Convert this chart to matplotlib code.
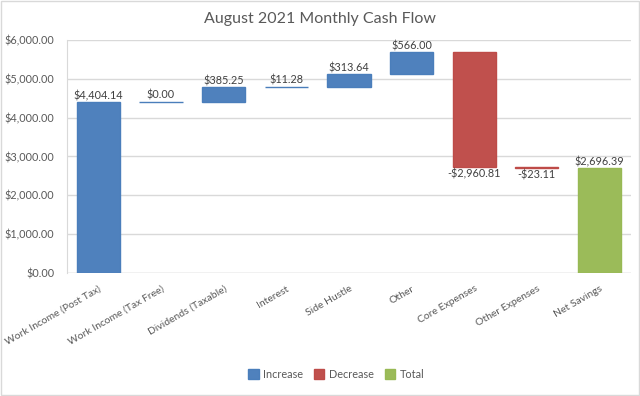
import numpy as np
import matplotlib
matplotlib.use("Agg")
import matplotlib.pyplot as plt
from matplotlib.patches import Patch, Rectangle

categories = [
    "Work Income (Post Tax)",
    "Work Income (Tax Free)",
    "Dividends (Taxable)",
    "Interest",
    "Side Hustle",
    "Other",
    "Core Expenses",
    "Other Expenses",
    "Net Savings",
]
amounts = [4404.14, 0.00, 385.25, 11.28, 313.64, 566.00, -2960.81, -23.11, 2696.39]
kinds = ["inc", "inc", "inc", "inc", "inc", "inc", "dec", "dec", "total"]

colors = {"inc": "#4f81bd", "dec": "#c0504d", "total": "#9bbb59"}
edges = {"inc": "#4a7ebb", "dec": "#be4b48", "total": "#98b954"}
text_col = "#595959"

plt.rcParams["font.family"] = ["Lato", "DejaVu Sans"]


def money(v):
    s = "${:,.2f}".format(abs(v))
    return "-" + s if v < 0 else s


def main():
    fig = plt.figure(figsize=(6.4, 3.96), dpi=100)
    ax = fig.add_axes((0.1047, 0.3106, 0.881, 0.5884))
    x = np.arange(len(categories))

    running = 0.0
    for i, (v, k) in enumerate(zip(amounts, kinds)):
        if k == "total":
            bottom, height = 0.0, v
            label_y, va = v, "bottom"
        elif v >= 0:
            bottom, height = running, v
            running += v
            label_y, va = running, "bottom"
        else:
            bottom, height = running + v, -v
            running += v
            label_y, va = running, "top"
        ax.bar(x[i], height, bottom=bottom, width=0.69, color=colors[k],
               edgecolor=edges[k], linewidth=1.0, zorder=3)
        off = 25 if va == "bottom" else -25
        ax.text(x[i], label_y + off, money(v), ha="center", va=va,
                fontsize=7.8, color="#404040", zorder=4)

    ax.set_xlim(-0.5, len(categories) - 0.5)
    ax.set_ylim(0, 6000)
    ax.set_yticks(np.arange(0, 6001, 1000))
    ax.set_yticklabels([money(t) for t in np.arange(0, 6001, 1000)])
    ax.set_xticks(x)
    ax.set_xticklabels(categories, rotation=30, ha="right",
                       rotation_mode="anchor")
    ax.tick_params(axis="both", length=0, labelsize=7.8, colors=text_col)
    ax.tick_params(axis="x", pad=8, labelsize=7.5)
    ax.tick_params(axis="y", pad=9)
    ax.grid(axis="y", color="#d9d9d9", linewidth=1.0, zorder=0)
    for s in ["top", "right", "bottom"]:
        ax.spines[s].set_visible(False)
    ax.spines["left"].set_color("#d9d9d9")
    ax.axhline(0, color="#d9d9d9", linewidth=1.0, zorder=2)

    fig.text(0.5, 0.952, "August 2021 Monthly Cash Flow", ha="center",
             va="center", fontsize=11.5, color=text_col)

    handles = [Patch(facecolor=colors[k], edgecolor=edges[k], label=n)
               for k, n in [("inc", "Increase"), ("dec", "Decrease"),
                            ("total", "Total")]]
    fig.legend(handles=handles, loc="center", bbox_to_anchor=(0.525, 0.055),
               ncol=3, frameon=False, fontsize=7.8, handlelength=1.0,
               handleheight=1.0, handletextpad=0.4, columnspacing=1.0,
               labelcolor=text_col)

    fig.patches.append(Rectangle((0.001, 0.002), 0.997, 0.995,
                                 transform=fig.transFigure, fill=False,
                                 edgecolor="#d9d9d9", linewidth=1.0))

    fig.savefig("out.png", dpi=100, facecolor="white")


main()
